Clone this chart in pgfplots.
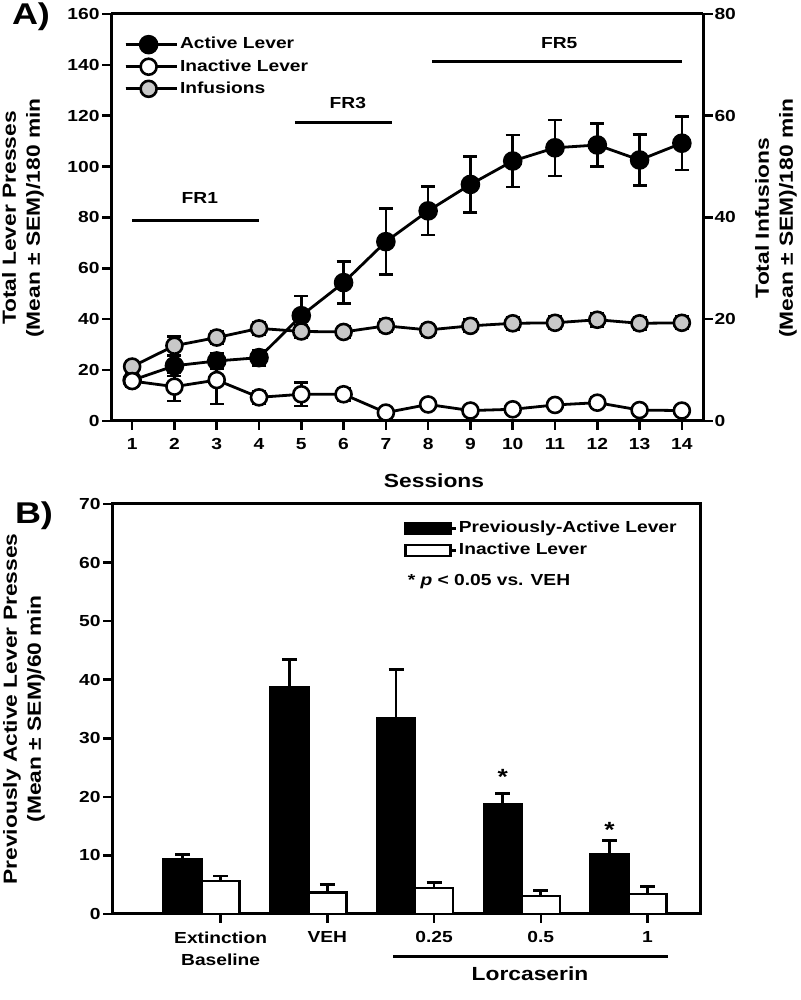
\documentclass[border=0pt]{standalone}
\usepackage{fontspec}
\setmainfont{Liberation Sans}[FakeStretch=1.2]
\usepackage{pgfplots}
\usepackage{pgfplotstable}
\pgfplotsset{compat=1.18}
\newcommand\fA{\fontsize{16}{22}\selectfont\bfseries}
\newcommand\fL{\fontsize{19}{24}\selectfont\bfseries}
\definecolor{infgray}{RGB}{200,200,200}

\pgfplotstableread{
s m e
1 16.0 2.5
2 21.7 4.0
3 23.6 3.0
4 24.9 3.0
5 41.4 7.7
6 54.4 8.3
7 70.5 13.0
8 82.6 9.5
9 93.0 11.0
10 102.2 10.3
11 107.4 11.0
12 108.5 8.5
13 102.6 10.0
14 109.2 10.5
}\tabActive
\pgfplotstableread{
s m e
1 15.7 2.0
2 13.5 5.6
3 16.1 9.4
4 9.3 2.5
5 10.5 4.6
6 10.5 2.5
7 3.3 1.0
8 6.5 1.5
9 4.1 1.5
10 4.6 1.5
11 6.3 1.5
12 7.2 2.0
13 4.3 1.0
14 4.1 1.0
}\tabInactive
\pgfplotstableread{
s m e
1 10.7 1.0
2 14.8 1.8
3 16.4 1.2
4 18.2 1.2
5 17.6 1.2
6 17.5 1.2
7 18.7 1.2
8 17.9 1.2
9 18.7 1.2
10 19.2 1.2
11 19.3 1.2
12 19.9 1.3
13 19.2 1.2
14 19.3 1.2
}\tabInf
\pgfplotstableread{
g m e
0 9.3 0.9
1 38.7 4.7
2 33.4 8.3
3 18.8 1.8
4 10.2 2.4
}\tabPrevActive
\pgfplotstableread{
g m e
0 5.6 0.9
1 3.7 1.3
2 4.4 1.0
3 3.1 0.9
4 3.4 1.3
}\tabPrevInactive

\pgfplotsset{
  common/.style={
    scale only axis, clip=false,
    axis line style={line width=3pt},
    tick label style={font=\fA},
    tick align=outside, major tick length=8pt,
    /pgf/number format/assume math mode=true,
  },
  aerr/.style={error bars/.cd, y dir=both, y explicit,
    error bar style={line width=2.5pt, black},
    error mark options={rotate=90, mark size=7pt, line width=2.5pt, black}},
  berr/.style={error bars/.cd, y dir=plus, y explicit,
    error bar style={line width=2.8pt, black},
    error mark options={rotate=90, mark size=7.5pt, line width=2.8pt, black}},
  sActive/.style={black, line width=2.8pt, mark=*, mark size=8.8pt, mark options={fill=black, draw=black, line width=2pt}},
  sInactive/.style={black, line width=2.8pt, mark=*, mark size=8pt, mark options={fill=white, draw=black, line width=2.6pt}},
  sInf/.style={black, line width=2.8pt, mark=*, mark size=8pt, mark options={fill=infgray, draw=black, line width=2.6pt}},
}

\begin{document}
\begin{tikzpicture}
\useasboundingbox (0,0) rectangle (800pt,1000pt);

% ---------- Panel A ----------
\begin{axis}[common,
  at={(111pt,579pt)}, anchor=south west, width=592pt, height=407pt,
  xmin=0.5, xmax=14.5, ymin=0, ymax=160,
  xtick={1,...,14}, ytick={0,20,...,160},
  axis x line*=bottom, axis y line*=left,
  xticklabel style={yshift=-6pt},
  legend cell align=left,
  legend image code/.code={\path (0pt,0pt) -- (51pt,0pt);\draw[mark repeat=2,mark phase=2,#1] plot coordinates {(0pt,0pt) (23pt,0pt) (46pt,0pt)};},
  legend style={at={(0.022,0.948)}, anchor=north west, draw=none, fill=none,
    font=\fA, inner sep=0pt, row sep=3.5pt,
    nodes={inner sep=2pt, text depth=3pt}},
]
\addlegendimage{sActive}
\addlegendentry{Active Lever}
\addlegendimage{sInactive}
\addlegendentry{Inactive Lever}
\addlegendimage{sInf}
\addlegendentry{Infusions}
\addplot[sActive, forget plot, aerr] table[x=s, y=m, y error=e] {\tabActive};
\draw[line width=3pt] (axis cs:1,79) -- (axis cs:4,79);
\node[font=\fA] at (axis cs:2.6,87.5) {FR1};
\draw[line width=3pt] (axis cs:4.85,117.3) -- (axis cs:7.15,117.3);
\node[font=\fA] at (axis cs:6.1,125) {FR3};
\draw[line width=3pt] (axis cs:8.1,141.2) -- (axis cs:14,141.2);
\node[font=\fA] at (axis cs:11.1,148.5) {FR5};
\end{axis}

\begin{axis}[common,
  at={(111pt,579pt)}, anchor=south west, width=592pt, height=407pt,
  xmin=0.5, xmax=14.5, ymin=0, ymax=80,
  axis x line*=top, xtick=\empty,
  axis y line*=right, ytick={0,20,...,80},
]
\addplot[sInf, aerr] table[x=s, y=m, y error=e] {\tabInf};
\end{axis}

\begin{axis}[common,
  at={(111pt,579pt)}, anchor=south west, width=592pt, height=407pt,
  xmin=0.5, xmax=14.5, ymin=0, ymax=160, hide axis,
]
\addplot[sInactive, aerr] table[x=s, y=m, y error=e] {\tabInactive};
\end{axis}

% tick marks, panel A
\foreach \i in {1,...,14} \draw[line width=2.5pt, black] ({(111+(\i-0.5)*42.2857)*1pt},579pt) -- ++(0pt,-9.5pt);
\foreach \v in {0,1,...,8} \draw[line width=2.5pt, black] (111pt,{(579+\v*50.875)*1pt}) -- ++(-9.5pt,0pt);
\foreach \v in {0,1,...,4} \draw[line width=2.5pt, black] (703pt,{(579+\v*101.75)*1pt}) -- ++(9.5pt,0pt);

\node[font=\fL, rotate=90, align=center] at (23pt,782pt) {Total Lever Presses\\(Mean ± SEM)/180 min};
\node[font=\fL, rotate=90, align=center] at (776pt,782pt) {Total Infusions\\(Mean ± SEM)/180 min};
\node[font=\fL] at (434pt,519pt) {Sessions};
\node[font=\fontsize{30}{30}\selectfont\bfseries] at (31pt,983pt) {A)};

% ---------- Panel B ----------
\begin{axis}[common,
  at={(112pt,86pt)}, anchor=south west, width=588pt, height=410pt,
  xmin=-0.84, xmax=4.67, ymin=0, ymax=70,
  ytick={0,10,...,70},
  xtick={0.178,1.178,2.178,3.178,4.178},
  xticklabels={{Extinction\\Baseline},VEH,0.25,0.5,1},
  xticklabel style={align=center, yshift=-6pt},
  xtick pos=left, ytick pos=left,
  bar width=0.356,
  legend cell align=left,
  legend image code/.code={\path (0pt,0pt) -- (50pt,0pt);\draw[#1, line width=2.5pt] (0pt,-5.5pt) rectangle (45pt,5.5pt);},
  legend style={at={(0.497,0.963)}, anchor=north west, draw=none, fill=none,
    font=\fA, inner sep=0pt, row sep=3pt,
    nodes={inner sep=2pt, text depth=3pt}},
]
\addplot[ybar, bar shift=0pt, fill=black, draw=black, line width=2.5pt, berr]
  table[x expr=\thisrow{g}-0.178, y=m, y error=e] {\tabPrevActive};
\addlegendentry{Previously-Active Lever}
\addplot[ybar, bar shift=0pt, fill=white, draw=black, line width=2.5pt, berr]
  table[x expr=\thisrow{g}+0.178, y=m, y error=e] {\tabPrevInactive};
\addlegendentry{Inactive Lever}
\node[font=\fA, anchor=west] at (rel axis cs:0.497,0.812) {* \textit{p} < 0.05 vs. VEH};
\node[font=\fontsize{22}{22}\selectfont\bfseries] at (axis cs:2.822,23.4) {*};
\node[font=\fontsize{22}{22}\selectfont\bfseries] at (axis cs:3.822,14.4) {*};
\end{axis}

% tick marks, panel B
\foreach \i in {0,1,...,4} \draw[line width=2.5pt, black] ({(112+(\i+1.018)*106.715)*1pt},86pt) -- ++(0pt,-9.5pt);
\foreach \v in {0,1,...,7} \draw[line width=2.5pt, black] (112pt,{(86+\v*58.571)*1pt}) -- ++(-9.5pt,0pt);

\node[font=\fL, rotate=90, align=center] at (24pt,291pt) {Previously Active Lever Presses\\(Mean ± SEM)/60 min};
\draw[line width=3pt] (393pt,43pt) -- (668pt,43pt);
\node[font=\fL] at (530pt,26pt) {Lorcaserin};
\node[font=\fontsize{30}{30}\selectfont\bfseries] at (34pt,484pt) {B)};
\end{tikzpicture}
\end{document}
